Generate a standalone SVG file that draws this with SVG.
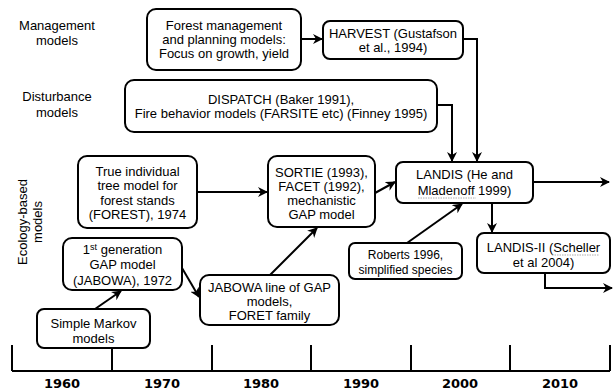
<svg xmlns="http://www.w3.org/2000/svg" width="615" height="392" viewBox="0 0 615 392">
<style>
.box{fill:#fff;stroke:#000;stroke-width:2}
.t{font-family:"Liberation Sans",Arial,sans-serif;font-size:13px;fill:#000;text-anchor:middle}
.s{font-size:12px}
.c{fill:none;stroke:#000;stroke-width:2;marker-end:url(#ah)}
.ax{fill:none;stroke:#000;stroke-width:2}
.yr{font-family:"DejaVu Sans",Verdana,sans-serif;font-weight:bold;font-size:13px;text-anchor:middle;fill:#000}
.sq{fill:none;stroke:#999;stroke-width:0.8;stroke-dasharray:1.5 1}
</style>
<defs>
<marker id="ah" viewBox="0 0 10 10" refX="9" refY="5" markerWidth="5" markerHeight="5" orient="auto" markerUnits="strokeWidth">
<path d="M0,0 L10,5 L0,10 L3,5 z" fill="#000"/>
</marker>
</defs>

<g id="labels">
<text class="t" x="57" y="30">Management</text>
<text class="t" x="57" y="45">models</text>
<text class="t" x="57" y="101">Disturbance</text>
<text class="t" x="57" y="117">models</text>
<g transform="translate(30,222) rotate(-90)">
<text class="t" x="0" y="-3">Ecology-based</text>
<text class="t" x="0" y="12">models</text>
</g>
</g>

<g id="connectors">
<path class="c" d="M301,39 H322"/>
<path class="c" d="M463,39 H477 V161"/>
<path class="c" d="M437,105 H452 V161"/>
<path class="c" d="M197,192 H267"/>
<path class="c" d="M375,193 L395,182"/>
<path class="c" d="M533,182 H609"/>
<path class="c" d="M492,203 V232"/>
<path class="c" d="M545,273 V288 H612"/>
<path class="c" d="M407,243 L462,204"/>
<path class="c" d="M270,275 L317,228"/>
<path class="c" d="M182,268 L199,297"/>
<path class="c" d="M95,309 L121,291"/>
</g>

<g id="mgmt">
<rect class="box" x="147" y="9" width="154" height="61" rx="9"/>
<text class="t" x="224" y="30">Forest management</text>
<text class="t" x="224" y="44">and planning models:</text>
<text class="t" x="224" y="58">Focus on growth, yield</text>
</g>

<g id="harvest">
<rect class="box" x="323" y="21" width="140" height="38" rx="7"/>
<text class="t" x="393" y="38">HARVEST (Gustafson</text>
<text class="t" x="393" y="52">et al., 1994)</text>
</g>

<g id="disturb">
<rect class="box" x="125" y="80" width="312" height="52" rx="9"/>
<text class="t" x="281" y="104">DISPATCH (Baker 1991),</text>
<text class="t" x="281" y="118">Fire behavior models (FARSITE etc) (Finney 1995)</text>
</g>

<g id="forest">
<rect class="box" x="78" y="156" width="119" height="72" rx="9"/>
<text class="t" x="137.5" y="176">True individual</text>
<text class="t" x="137.5" y="190">tree model for</text>
<text class="t" x="137.5" y="205">forest stands</text>
<text class="t" x="137.5" y="219">(FOREST), 1974</text>
</g>

<g id="sortie">
<rect class="box" x="268" y="156" width="107" height="71" rx="9"/>
<text class="t" x="321.5" y="177">SORTIE (1993),</text>
<text class="t" x="321.5" y="191">FACET (1992),</text>
<text class="t" x="321.5" y="205">mechanistic</text>
<text class="t" x="321.5" y="219">GAP model</text>
</g>

<g id="landis">
<rect class="box" x="396" y="162" width="137" height="41" rx="7"/>
<text class="t" x="464.5" y="179">LANDIS (He and</text>
<text class="t" x="464.5" y="195">Mladenoff 1999)</text>
<path class="sq" d="M418,198 H476"/>
</g>

<g id="landis2">
<rect class="box" x="477" y="233" width="133" height="40" rx="7"/>
<text class="t" x="543.5" y="252">LANDIS-II (Scheller</text>
<text class="t" x="543.5" y="267">et al 2004)</text>
<path class="sq" d="M552,255 H599"/>
</g>

<g id="roberts">
<rect class="box" x="349" y="243" width="113" height="36" rx="6"/>
<text class="t s" x="405.5" y="259">Roberts 1996,</text>
<text class="t s" x="405.5" y="274">simplified species</text>
</g>

<g id="gen1">
<rect class="box" x="63" y="238" width="119" height="52" rx="9"/>
<text class="t" x="122.5" y="254">1<tspan font-size="9" dy="-4">st</tspan><tspan dy="4"> generation</tspan></text>
<text class="t" x="122.5" y="269">GAP model</text>
<text class="t" x="122.5" y="285">(JABOWA), 1972</text>
</g>

<g id="jabowa">
<rect class="box" x="200" y="275" width="139" height="50" rx="9"/>
<text class="t" x="269.5" y="292">JABOWA line of GAP</text>
<text class="t" x="269.5" y="306">models,</text>
<text class="t" x="269.5" y="320">FORET family</text>
</g>

<g id="markov">
<rect class="box" x="37" y="309" width="113" height="39" rx="7"/>
<text class="t" x="93.5" y="328">Simple Markov</text>
<text class="t" x="93.5" y="343">models</text>
</g>

<g id="timeline">
<path class="ax" d="M12,371 H610 M12,345 V371 M112,348 V371 M212,345 V371 M311,345 V371 M411,345 V371 M510,345 V371 M610,345 V371"/>
<text class="yr" x="62" y="388">1960</text>
<text class="yr" x="162" y="388">1970</text>
<text class="yr" x="261" y="388">1980</text>
<text class="yr" x="361" y="388">1990</text>
<text class="yr" x="460" y="388">2000</text>
<text class="yr" x="560" y="388">2010</text>
</g>
</svg>
